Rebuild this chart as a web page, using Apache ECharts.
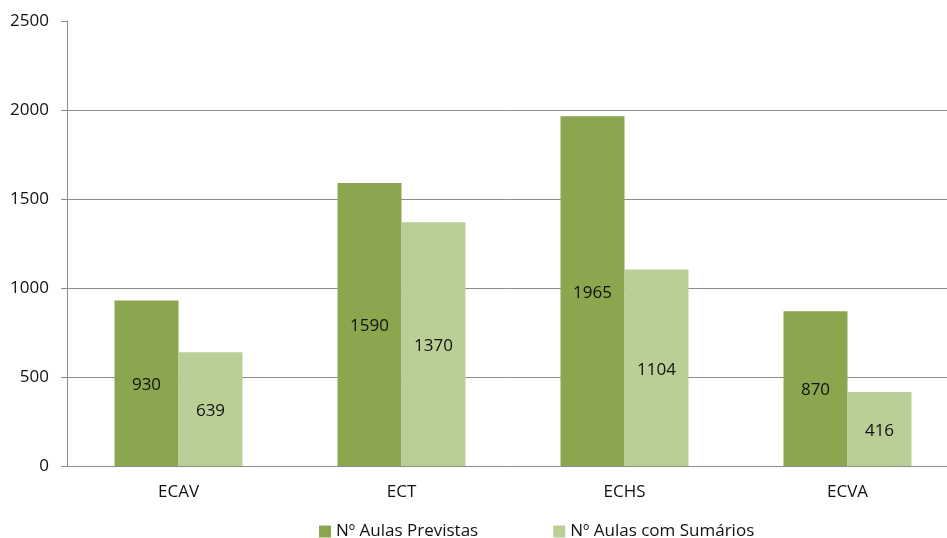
<!DOCTYPE html>
<html>
<head>
<meta charset="utf-8">
<script src="https://cdn.jsdelivr.net/npm/echarts@6/dist/echarts.min.js"></script>
<style>
  html, body { margin: 0; padding: 0; background: #fff; }
  #chart { width: 947px; height: 538px; }
</style>
</head>
<body>
<div id="chart"></div>
<script>
// 数据
const categories = ['ECAV', 'ECT', 'ECHS', 'ECVA']
const previstas = [930, 1590, 1965, 870]
const sumarios = [639, 1370, 1104, 416]
const seriesNames = ['Nº Aulas Previstas', 'Nº Aulas com Sumários']

const font = '"Open Sans", sans-serif'
const gridColor = '#8c8c8c'

const chart = echarts.init(document.getElementById('chart'))

const option = {
  animation: false,
  textStyle: { fontFamily: font },
  legend: {
    top: 518,
    left: 314,
    itemGap: 75,
    itemWidth: 12,
    itemHeight: 12,
    icon: 'rect',
    textStyle: { color: '#111', fontSize: 17, fontFamily: font },
    data: seriesNames,
  },
  grid: {
    left: 67,
    width: 892,
    top: 21,
    height: 445,
    outerBoundsMode: 'none',
    containLabel: false,
  },
  xAxis: {
    type: 'category',
    data: categories,
    axisLine: { lineStyle: { color: gridColor, width: 1 } },
    axisTick: { length: 6, lineStyle: { color: gridColor } },
    axisLabel: { color: '#111', fontSize: 17, margin: 18, fontFamily: font },
  },
  yAxis: {
    type: 'value',
    min: 0,
    max: 2500,
    interval: 500,
    axisLine: { show: true, lineStyle: { color: gridColor } },
    axisTick: { show: true, length: 6, lineStyle: { color: gridColor } },
    axisLabel: {
      color: '#111',
      fontSize: 17,
      margin: 18,
      fontFamily: font,
      formatter: v => String(v),
    },
    splitLine: {
      lineStyle: {
        color: [gridColor, gridColor, gridColor, gridColor, gridColor, 'rgba(0,0,0,0)'],
      },
    },
  },
  series: [
    {
      name: seriesNames[0],
      type: 'bar',
      data: previstas,
      barWidth: 64,
      barGap: '0%',
      itemStyle: { color: '#8aa64e' },
      label: {
        show: true,
        position: 'inside',
        offset: [0, 2],
        color: '#111',
        fontSize: 17,
        fontFamily: font,
      },
    },
    {
      name: seriesNames[1],
      type: 'bar',
      data: sumarios,
      barWidth: 64,
      barGap: '0%',
      itemStyle: { color: '#b9cf96' },
      label: {
        show: true,
        position: 'inside',
        offset: [0, 2],
        color: '#111',
        fontSize: 17,
        fontFamily: font,
      },
    },
  ],
}

chart.setOption(option)
</script>
</body>
</html>
